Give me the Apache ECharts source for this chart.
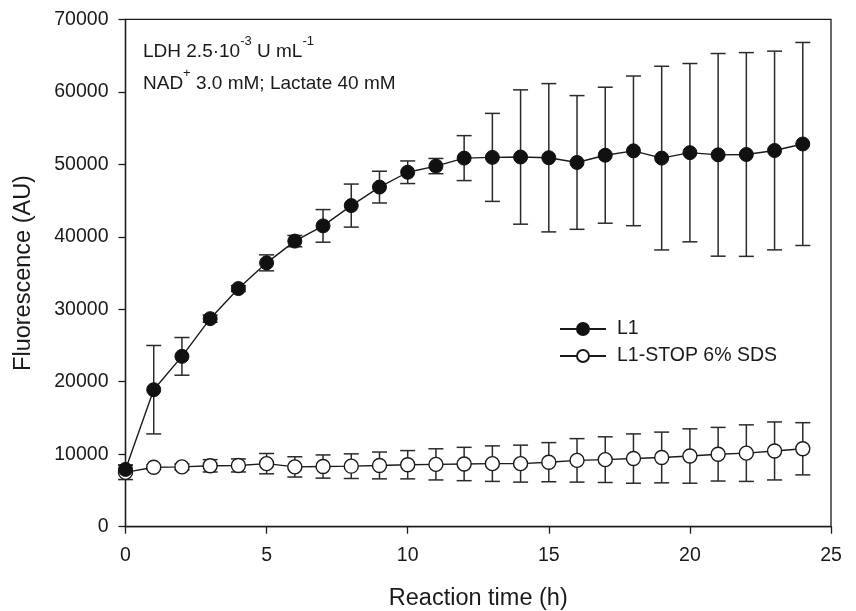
<!DOCTYPE html>
<html>
<head>
<meta charset="utf-8">
<script src="https://cdn.jsdelivr.net/npm/echarts@6/dist/echarts.min.js"></script>
<style>
html,body{margin:0;padding:0;background:#fff;}
#chart{width:856px;height:611px;}
</style>
</head>
<body>
<div id="chart"></div>
<script>
// Reaction time (h)
var time = [0,1,2,3,4,5,6,7,8,9,10,11,12,13,14,15,16,17,18,19,20,21,22,23,24];
// L1 mean and symmetric error
var l1 = [7900,18900,23500,28700,32850,36400,39400,41500,44300,46850,48900,49750,50850,50950,51000,50900,50250,51250,51850,50850,51600,51300,51350,51900,52800];
var l1Err = [600,6100,2600,500,400,1100,780,2250,2970,2190,1560,1050,3100,6070,9265,10230,9225,9380,10325,12670,12300,13980,14055,13710,14005];
// L1-STOP 6% SDS mean and symmetric error
var stop = [7500,8200,8250,8400,8450,8700,8250,8300,8350,8450,8550,8600,8650,8700,8700,8900,9150,9250,9400,9550,9750,10000,10150,10450,10750];
var stopErr = [1000,300,400,850,900,1400,1400,1600,1700,1850,1950,2150,2300,2450,2550,2700,3000,3150,3400,3500,3750,3700,3900,4000,3600];
var xTicks = [0,5,10,15,20,25];
var yTicks = [0,10000,20000,30000,40000,50000,60000,70000];
var seriesNames = ['L1','L1-STOP 6% SDS'];

var FONT = '"Liberation Sans", Arial, Helvetica, sans-serif';
var chart = echarts.init(document.getElementById('chart'), null, {renderer:'canvas'});

function pairs(ys){ return time.map(function(t,i){ return [t, ys[i]]; }); }
function errData(ys, es){ return time.map(function(t,i){ return [t, ys[i]-es[i], ys[i]+es[i]]; }); }

function errRender(params, api){
  var x = api.value(0), lo = api.value(1), hi = api.value(2);
  var pLo = api.coord([x, lo]), pHi = api.coord([x, hi]);
  var hw = 7.5;
  var st = {stroke:'#2a2a2a', lineWidth:1.5};
  return {type:'group', children:[
    {type:'line', shape:{x1:pLo[0], y1:pLo[1], x2:pHi[0], y2:pHi[1]}, style:st},
    {type:'line', shape:{x1:pLo[0]-hw, y1:pLo[1], x2:pLo[0]+hw, y2:pLo[1]}, style:st},
    {type:'line', shape:{x1:pHi[0]-hw, y1:pHi[1], x2:pHi[0]+hw, y2:pHi[1]}, style:st}
  ]};
}

var richStyles = {
  n:{fontFamily:FONT, fontSize:19, fill:'#1a1a1a', color:'#1a1a1a', lineHeight:26, verticalAlign:'bottom'},
  s:{fontFamily:FONT, fontSize:13, fill:'#1a1a1a', color:'#1a1a1a', lineHeight:14, verticalAlign:'top'}
};

var option = {
  animation:false,
  backgroundColor:'#ffffff',
  grid:{left:125.5, right:25, top:19.3, bottom:84.3, show:true, borderColor:'#1a1a1a', borderWidth:1.3,
    containLabel:false, outerBoundsMode:'none'},
  xAxis:{
    type:'value', min:0, max:25, interval:5,
    name:'Reaction time (h)', nameLocation:'middle', nameGap:60,
    nameTextStyle:{fontFamily:FONT, fontSize:23.5, color:'#1a1a1a'},
    axisLine:{show:true, onZero:false, lineStyle:{color:'#1a1a1a', width:1.3}},
    axisTick:{show:true, inside:false, length:7, lineStyle:{color:'#1a1a1a', width:1.3}},
    axisLabel:{fontFamily:FONT, fontSize:19.5, color:'#1a1a1a', margin:19,
      formatter:function(v){ return xTicks.indexOf(v)>=0 ? String(v) : ''; }},
    splitLine:{show:false}
  },
  yAxis:{
    type:'value', min:0, max:70000, interval:10000,
    name:'Fluorescence (AU)', nameLocation:'middle', nameGap:90,
    nameTextStyle:{fontFamily:FONT, fontSize:23.5, color:'#1a1a1a'},
    axisLine:{show:true, onZero:false, lineStyle:{color:'#1a1a1a', width:1.3}},
    axisTick:{show:true, inside:false, length:7, lineStyle:{color:'#1a1a1a', width:1.3}},
    axisLabel:{fontFamily:FONT, fontSize:19.5, color:'#1a1a1a', margin:17,
      formatter:function(v){ return yTicks.indexOf(v)>=0 ? String(v) : ''; }},
    splitLine:{show:false}
  },
  legend:{
    orient:'vertical', left:559, top:319, padding:0, itemWidth:46, itemHeight:15, itemGap:7,
    textStyle:{fontFamily:FONT, fontSize:19.5, color:'#1a1a1a', padding:[0,0,0,6]},
    data:seriesNames
  },
  graphic:[
    {type:'text', left:143, top:35, z:100, style:{
      text:'{n|LDH 2.5·10}{s|-3}{n| U mL}{s|-1}', rich:richStyles}},
    {type:'text', left:143, top:67, z:100, style:{
      text:'{n|NAD}{s|+}{n| 3.0 mM; Lactate 40 mM}', rich:richStyles}}
  ],
  series:[
    {type:'custom', name:'L1 err', renderItem:errRender, data:errData(l1, l1Err), z:1, silent:true, encode:{x:0, y:[1,2]}},
    {type:'custom', name:'STOP err', renderItem:errRender, data:errData(stop, stopErr), z:1, silent:true, encode:{x:0, y:[1,2]}},
    {type:'line', name:seriesNames[1], data:pairs(stop), z:3,
      symbol:'circle', symbolSize:14, showAllSymbol:true,
      lineStyle:{color:'#1a1a1a', width:1.4},
      itemStyle:{color:'#ffffff', borderColor:'#1a1a1a', borderWidth:1.4}},
    {type:'line', name:seriesNames[0], data:pairs(l1), z:4,
      symbol:'circle', symbolSize:14, showAllSymbol:true,
      lineStyle:{color:'#1a1a1a', width:1.4},
      itemStyle:{color:'#111111', borderColor:'#111111', borderWidth:1}}
  ]
};
chart.setOption(option);
</script>
</body>
</html>
